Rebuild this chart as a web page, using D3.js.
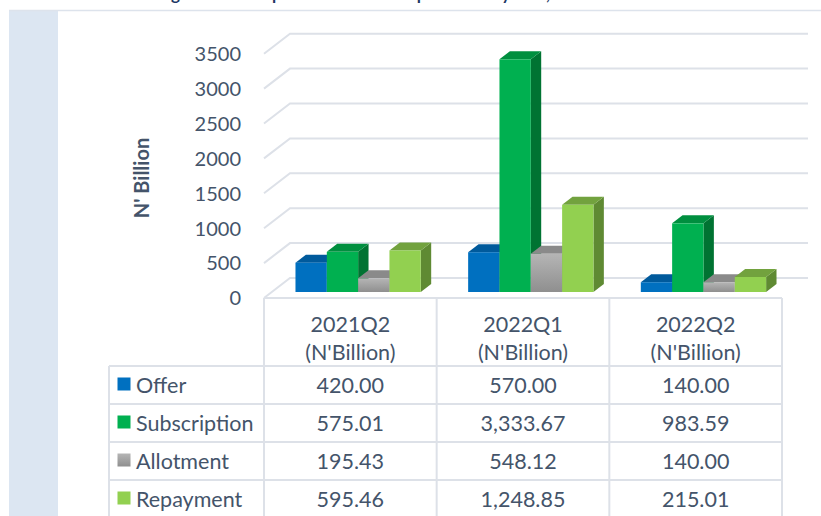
<!DOCTYPE html>
<html>
<head>
<meta charset="utf-8">
<script src="https://cdn.jsdelivr.net/npm/d3@7"></script>
<style>
  html, body { margin: 0; padding: 0; background: #ffffff; }
  svg { display: block; }
  text { font-family: Lato, "Open Sans", sans-serif; }
</style>
</head>
<body>
<svg id="chart" width="821" height="516"></svg>
<script>
// ---- data ----
const categories = ["2021Q2", "2022Q1", "2022Q2"];
const unitLabel = "(N'Billion)";
const series = ["Offer", "Subscription", "Allotment", "Repayment"];
const offer = [420.00, 570.00, 140.00];
const subscription = [575.01, 3333.67, 983.59];
const allotment = [195.43, 548.12, 140.00];
const repayment = [595.46, 1248.85, 215.01];
const yTicks = [0, 500, 1000, 1500, 2000, 2500, 3000, 3500];
const yTitle = "N' Billion";
const titleText = "Figure 12: Comparison of Bonds Operations by Year, 2021 \u2013 2022";

const values = { "Offer": offer, "Subscription": subscription, "Allotment": allotment, "Repayment": repayment };

// ---- styling ----
const colors = {
  "Offer":        { front: "#0070c0", top: "#005a9c", side: "#004c86" },
  "Subscription": { front: "#00b050", top: "#008f3f", side: "#007332" },
  "Allotment":    { front: "url(#greyGrad)", top: "#8a8a8a", side: "#777777" },
  "Repayment":    { front: "#92d050", top: "#72a23e", side: "#5f8a33" }
};
const legendColors = { "Offer": "#0070c0", "Subscription": "#00b050", "Allotment": "url(#greyGrad)", "Repayment": "#92d050" };
const textColor = "#44546a";
const lineColor = "#dde1e8";
const tableFont = 21.5;

const svg = d3.select("#chart");

const defs = svg.append("defs");
const gg = defs.append("linearGradient").attr("id", "greyGrad").attr("x1", 0).attr("y1", 0).attr("x2", 0).attr("y2", 1);
gg.append("stop").attr("offset", "0%").attr("stop-color", "#b5b5b5");
gg.append("stop").attr("offset", "100%").attr("stop-color", "#8f8f8f");

// page decorations (title is cut off by the top edge, as in the reference)
svg.append("text").attr("x", 157).attr("y", -0.5)
  .attr("font-size", 17).attr("font-weight", "bold").attr("fill", "#1f3864")
  .text(titleText);
svg.append("rect").attr("x", 9).attr("y", 10).attr("width", 49).attr("height", 506).attr("fill", "#dce6f2");
svg.append("line").attr("x1", 9).attr("x2", 821).attr("y1", 10.5).attr("y2", 10.5)
  .attr("stroke", "#dde3ec").attr("stroke-width", 1.5);

// ---- scales ----
const left = 264, right = 782;
const DX = 26, DY = -20;          // depth of the 3D box
const y = d3.scaleLinear().domain([0, 3500]).range([298, 53.7]);
const x0 = d3.scaleBand().domain(categories).range([left, right]).padding(0);
const x1 = d3.scaleBand().domain(series).range([0, x0.bandwidth()]).paddingInner(0).paddingOuter(0.756);

// ---- walls / gridlines ----
const grid = svg.append("g");
yTicks.forEach(t => {
  const yy = y(t);
  grid.append("path")
    .attr("d", `M${left},${yy} L${left + DX},${yy + DY} L${right + DX},${yy + DY}`)
    .attr("fill", "none").attr("stroke", lineColor).attr("stroke-width", 2);
});

// y axis labels
const yAxis = d3.axisLeft(y).tickValues(yTicks).tickSize(0).tickPadding(0).tickFormat(d3.format("d"));
const yg = svg.append("g").attr("transform", "translate(241,0)").call(yAxis);
yg.select(".domain").remove();
yg.selectAll("text").attr("font-size", 20).attr("fill", textColor)
  .attr("font-family", "Lato, sans-serif").attr("dy", "0.34em");

svg.append("text")
  .attr("transform", "translate(149,178) rotate(-90)")
  .attr("text-anchor", "middle")
  .attr("font-size", 20).attr("font-weight", "bold").attr("fill", textColor)
  .text(yTitle);

// ---- 3D bars ----
const bx = 0.3 * DX, by = 0.3 * DY;     // bar front plane offset
const dxb = 0.4 * DX, dyb = 0.4 * DY;   // bar depth
const bars = svg.append("g");
categories.forEach((c, ci) => {
  series.forEach(s => {
    const v = values[s][ci];
    const w = x1.bandwidth();
    const xf = x0(c) + x1(s) + bx;
    const base = y(0) + by;
    const top = y(v) + by;
    const col = colors[s];
    bars.append("path")
      .attr("d", `M${xf + w},${top} L${xf + w + dxb},${top + dyb} L${xf + w + dxb},${base + dyb} L${xf + w},${base} Z`)
      .attr("fill", col.side);
    bars.append("path")
      .attr("d", `M${xf},${top} L${xf + dxb},${top + dyb} L${xf + w + dxb},${top + dyb} L${xf + w},${top} Z`)
      .attr("fill", col.top);
    bars.append("rect")
      .attr("x", xf).attr("y", top).attr("width", w).attr("height", base - top)
      .attr("fill", col.front);
  });
});

// ---- data table ----
const tableLeft = 109;
const headerTop = y(0), headerBottom = 366, rowH = 38;
const rowY = d3.scaleBand().domain(series).range([headerBottom, headerBottom + rowH * series.length]);
const tbl = svg.append("g");
const fmt = d3.format(",.2f");

// lines
tbl.append("line").attr("x1", left).attr("x2", right).attr("y1", headerTop).attr("y2", headerTop);
series.forEach(s => {
  tbl.append("line").attr("x1", tableLeft).attr("x2", right).attr("y1", rowY(s)).attr("y2", rowY(s));
});
tbl.append("line").attr("x1", tableLeft).attr("x2", tableLeft).attr("y1", headerBottom).attr("y2", 516);
categories.forEach(c => {
  tbl.append("line").attr("x1", x0(c)).attr("x2", x0(c)).attr("y1", headerTop).attr("y2", 516);
});
tbl.append("line").attr("x1", right).attr("x2", right).attr("y1", headerTop).attr("y2", 516);
tbl.selectAll("line").attr("stroke", lineColor).attr("stroke-width", 2);

// header
categories.forEach(c => {
  const cx = x0(c) + x0.bandwidth() / 2;
  tbl.append("text").attr("x", cx).attr("y", 332).attr("text-anchor", "middle")
    .attr("font-size", tableFont).attr("fill", textColor).text(c);
  tbl.append("text").attr("x", cx).attr("y", 360).attr("text-anchor", "middle")
    .attr("font-size", tableFont).attr("fill", textColor).text(unitLabel);
});

// rows
series.forEach(s => {
  const ry = rowY(s) + rowY.bandwidth() / 2;
  tbl.append("rect").attr("x", 117.5).attr("y", ry - 7.5).attr("width", 13).attr("height", 13)
    .attr("fill", legendColors[s]);
  tbl.append("text").attr("x", 136).attr("y", ry).attr("dy", "0.35em")
    .attr("font-size", tableFont).attr("fill", textColor).text(s);
  categories.forEach((c, ci) => {
    tbl.append("text").attr("x", x0(c) + x0.bandwidth() / 2).attr("y", ry).attr("dy", "0.35em")
      .attr("text-anchor", "middle").attr("font-size", tableFont).attr("fill", textColor)
      .text(fmt(values[s][ci]));
  });
});
</script>
</body>
</html>
